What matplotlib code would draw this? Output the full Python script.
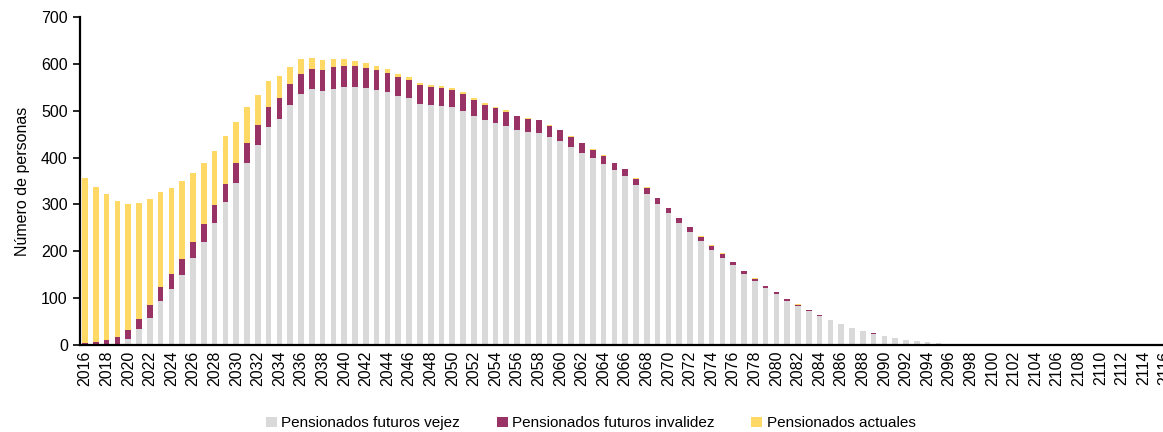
import matplotlib.pyplot as plt
import numpy as np

# years 2016..2116
years = list(range(2016, 2117))

# Pensionados futuros vejez
vejez = [0, 0, 1, 3, 13, 34, 59, 94, 121, 149,
         185, 220, 260, 305, 346, 389, 427, 465, 483, 511,
         535, 545, 542, 547, 551, 550, 548, 544, 540, 532,
         527, 515, 512, 510, 508, 500, 488, 479, 474, 468,
         459, 454, 452, 443, 435, 422, 410, 398, 386, 373,
         360, 341, 323, 302, 282, 261, 242, 223, 204, 187,
         170, 152, 138, 122, 109, 95, 83, 74, 62.5, 53.5,
         45, 36.6, 29.5, 24.5, 19.7, 15.6, 11.4, 8.6, 6.3, 4.3,
         2.9, 2.2, 2, 1.5, 0, 0, 0, 0, 0, 0,
         0, 0, 0, 0, 0, 0, 0, 0, 0, 0, 0]

# Pensionados futuros invalidez
invalidez = [4, 7, 10, 15, 20, 23, 27, 31, 31, 35,
             34, 38, 39, 39, 42, 43, 42, 43, 43, 45,
             44, 43, 45, 45, 45, 44, 43, 43, 41, 40,
             39, 40, 38, 38, 36, 35, 34, 33, 32, 30,
             29, 28, 27, 24, 23, 22, 20.6, 18.5, 17, 15,
             15, 14, 13, 11.4, 10, 10, 9, 8.5, 8.6, 7.8,
             7.2, 5.7, 4.3, 4.2, 3.5, 3.5, 3.6, 1.2, 1.3, 1.1,
             1.1, 1, 1, 1, 0.8, 0.7, 0.6, 0.6, 0.7, 0.6,
             0.6, 0.6, 0.5, 0.5, 0, 0, 0, 0, 0, 0,
             0, 0, 0, 0, 0, 0, 0, 0, 0, 0, 0]

# Pensionados actuales
actuales = [352, 331, 311, 289, 267, 246, 225, 202, 184, 165,
            147, 130, 114, 101, 88, 76, 64, 55, 47, 37,
            31, 23, 21, 17, 14, 12, 10, 8.5, 7, 7,
            6, 4.5, 5, 4, 3.5, 4, 4, 4, 2.5, 2.5,
            1.5, 1.5, 1.4, 1.4, 1.4, 1.4, 1.4, 1.4, 1.4, 1.4,
            0.7, 0.7, 0.7, 0.7, 0.7, 0.7, 0.7, 0.7, 0.7, 1.4,
            0.7, 0.7, 0.7, 0.7, 0.7, 0.7, 0.7, 0, 0, 0,
            0, 0, 0, 0, 0, 0, 0, 0, 0, 0,
            0, 0, 0, 0, 0, 0, 0, 0, 0, 0,
            0, 0, 0, 0, 0, 0, 0, 0, 0, 0, 0]

labels = ['Pensionados futuros vejez', 'Pensionados futuros invalidez', 'Pensionados actuales']
colors = ['#D9D9D9', '#993366', '#FFD966']

plt.rcParams['font.family'] = ['Liberation Sans Narrow', 'Liberation Sans', 'DejaVu Sans']

fig = plt.figure(figsize=(11.63, 4.32), dpi=100)
ax = fig.add_axes([0.0685, 0.2007, 0.938, 0.7606])

x = np.arange(len(years))
v = np.array(vejez)
i = np.array(invalidez)
a = np.array(actuales)
w = 0.52
ax.bar(x, v, w, color=colors[0], label=labels[0])
ax.bar(x, i, w, bottom=v, color=colors[1], label=labels[1])
ax.bar(x, a, w, bottom=v + i, color=colors[2], label=labels[2])

ax.set_xlim(-0.5, len(years) - 0.5)
ax.set_ylim(0, 700)
ax.set_yticks(range(0, 701, 100))
ax.set_xticks(x[::2])
ax.set_xticklabels([str(y) for y in years[::2]], rotation=90, fontsize=11.5)
ax.tick_params(axis='x', length=0, pad=4)
ax.tick_params(axis='y', labelsize=11.5, length=5, width=1.2, direction='out')
ax.set_ylabel('Número de personas', fontsize=11.5, labelpad=8)

for s in ['top', 'right']:
    ax.spines[s].set_visible(False)
for s in ['left', 'bottom']:
    ax.spines[s].set_linewidth(1.6)
    ax.spines[s].set_color('black')

fig.legend(loc='center', bbox_to_anchor=(0.508, 0.02), ncol=3, frameon=False,
           fontsize=11, handlelength=0.7, handleheight=0.7, handletextpad=0.3,
           columnspacing=2.4)

fig.savefig('out.png', dpi=100)
